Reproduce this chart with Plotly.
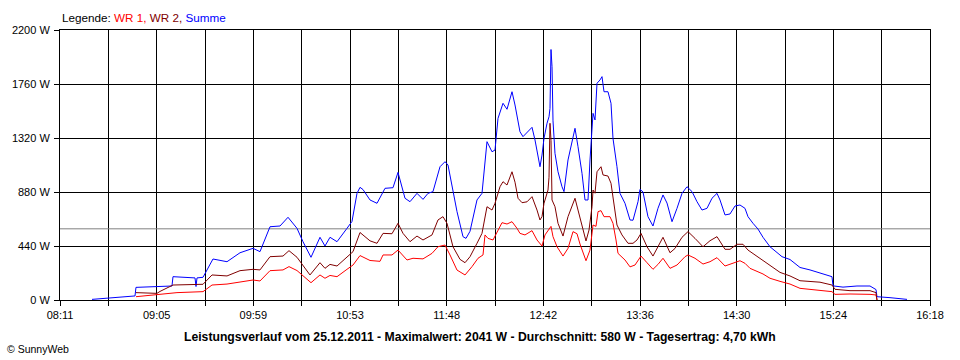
import plotly.graph_objects as go

# ---------------- data ----------------
sum_times = ["08:28:55","08:37:52","08:48:30","08:52:59","08:53:32","09:05:18","09:13:41","09:14:15","09:26:34","09:27:08",
             "09:27:41","09:31:03","09:33:17","09:36:38","09:44:29","09:51:46","09:59:02","10:02:57","10:08:33","10:14:09",
             "10:18:38","10:23:40","10:27:01","10:31:30","10:36:32","10:39:20","10:42:08","10:46:04","10:51:39","10:54:27",
             "10:57:15","10:58:56","11:00:37","11:04:32","11:08:27","11:12:56","11:17:24","11:20:12","11:24:07","11:26:55",
             "11:30:50","11:34:12","11:37:00","11:39:47","11:43:43","11:46:31","11:48:11","11:50:26","11:53:14","11:56:35",
             "11:58:16","12:00:31","12:04:25","12:07:13","12:10:01","12:12:49","12:14:30","12:16:11","12:18:59","12:21:13",
             "12:24:01","12:25:42","12:28:29","12:30:10","12:35:13","12:36:53","12:39:41","12:40:49","12:41:56","12:43:37",
             "12:44:44","12:45:17","12:45:51","12:46:25","12:46:58","12:48:05","12:49:46","12:52:00","12:53:07","12:55:22",
             "12:57:36","12:59:17","13:00:58","13:03:12","13:04:53","13:06:34","13:07:41","13:08:48","13:09:22","13:10:29",
             "13:11:36","13:13:17","13:14:24","13:15:31","13:17:45","13:19:26","13:20:33","13:22:47","13:24:28","13:27:16",
             "13:30:04","13:31:45","13:34:33","13:35:40","13:37:21","13:40:08","13:42:56","13:45:44","13:48:32","13:50:47",
             "13:53:35","13:56:23","13:59:11","14:01:59","14:04:47","14:07:34","14:10:22","14:13:10","14:15:58","14:18:46",
             "14:20:27","14:23:15","14:26:03","14:28:51","14:31:38","14:34:26","14:36:07","14:38:55","14:41:43","14:44:31",
             "14:48:26","14:52:55","14:55:09","14:59:38","15:05:14","15:10:50","15:16:26","15:23:08","15:23:42","15:29:18",
             "15:37:08","15:44:25","15:47:46","15:48:20","15:55:37","16:05:08"]
sum_watts = [5,14,27,33,103,106,114,190,180,110,
             180,185,244,334,312,385,421,394,597,603,
             674,584,475,348,511,440,511,475,584,640,
             869,918,900,815,788,910,915,1040,829,801,
             869,820,869,883,1086,1127,1100,923,720,516,
             502,560,815,869,1290,1208,1222,1480,1603,1554,
             1697,1589,1371,1331,1407,1304,1086,1181,1317,1440,
             1493,1560,2041,1901,1460,1195,1045,923,883,1141,
             1304,1399,1249,1032,815,815,1141,1358,1521,1467,
             1766,1793,1820,1697,1697,1603,1317,1086,869,788,
             652,650,801,902,880,679,603,747,856,790,
             638,747,869,923,883,801,733,747,829,869,
             815,693,701,766,774,747,679,625,578,511,
             434,380,353,330,265,245,222,190,115,105,
             114,114,85,27,19,5]

wr2_times = ["08:53:32","09:05:18","09:06:59","09:14:15","09:31:03","09:36:05","09:44:29","09:51:46","09:59:02","10:02:57",
             "10:08:33","10:15:50","10:19:11","10:23:40","10:30:56","10:36:32","10:39:20","10:42:08","10:46:04","10:51:39",
             "10:55:01","10:58:56","11:04:32","11:08:27","11:11:49","11:16:50","11:20:12","11:23:00","11:26:55","11:30:50",
             "11:34:12","11:39:14","11:42:35","11:45:23","11:47:38","11:50:59","11:54:55","11:57:43","12:00:31","12:04:25",
             "12:07:13","12:10:01","12:12:49","12:14:30","12:17:18","12:18:59","12:21:13","12:24:01","12:25:42","12:27:23",
             "12:29:37","12:32:25","12:35:13","12:38:01","12:39:41","12:40:49","12:41:56","12:44:10","12:44:44","12:45:17",
             "12:45:51","12:46:25","12:48:05","12:49:46","12:52:34","12:55:22","12:57:36","12:59:17","13:00:58","13:03:12",
             "13:05:26","13:07:07","13:08:48","13:09:22","13:10:29","13:11:36","13:13:50","13:14:58","13:17:45","13:19:26",
             "13:21:07","13:22:47","13:25:35","13:28:57","13:31:45","13:33:59","13:36:14","13:39:35","13:42:56","13:45:44",
             "13:48:32","13:52:28","13:55:16","13:59:11","14:02:32","14:06:27","14:10:56","14:14:51","14:18:46","14:23:15",
             "14:26:03","14:29:58","14:33:19","14:36:07","14:41:10","14:46:46","14:54:02","14:59:38","15:05:14","15:10:50",
             "15:16:26","15:23:08","15:24:49","15:33:13","15:44:25","15:47:46","15:48:20"]
wr2_watts = [60,54,70,122,128,204,196,239,250,245,
             353,358,402,348,204,304,258,290,277,348,
             394,550,482,462,543,540,625,543,475,521,
             489,530,652,679,625,434,331,304,353,462,
             543,760,733,788,923,964,937,1045,960,829,
             793,800,842,733,652,680,788,896,1000,1440,
             1300,815,760,625,521,679,760,829,733,611,
             481,570,760,896,870,1045,1086,1019,1010,951,
             760,611,530,462,462,489,543,434,358,434,
             511,385,420,511,557,502,434,483,516,413,
             413,454,454,407,353,299,225,196,157,149,
             145,122,87,76,76,60,0]

wr1_times = ["08:53:32","09:05:18","09:16:29","09:31:03","09:36:05","09:44:29","09:51:46","09:59:02","10:02:57","10:08:33",
             "10:15:50","10:19:11","10:23:40","10:31:30","10:36:32","10:39:20","10:42:08","10:46:04","10:51:39","10:55:01",
             "10:58:56","11:04:32","11:10:08","11:11:49","11:16:50","11:20:12","11:25:14","11:28:36","11:34:12","11:39:14",
             "11:42:35","11:46:31","11:49:19","11:53:14","11:57:43","12:01:38","12:04:59","12:07:47","12:08:54","12:10:35",
             "12:13:23","12:15:37","12:18:25","12:21:13","12:24:01","12:26:49","12:28:29","12:31:17","12:35:13","12:38:01",
             "12:40:49","12:42:29","12:44:44","12:45:51","12:46:58","12:49:13","12:52:34","12:55:22","12:58:10","13:00:24",
             "13:02:05","13:05:26","13:07:41","13:09:22","13:11:02","13:12:10","13:13:50","13:15:31","13:18:52","13:20:33",
             "13:22:14","13:23:21","13:27:16","13:30:04","13:32:52","13:36:14","13:39:35","13:42:56","13:45:44","13:48:32",
             "13:52:28","13:56:23","14:00:52","14:02:32","14:06:27","14:10:56","14:14:51","14:18:46","14:23:15","14:27:44",
             "14:31:38","14:34:26","14:37:14","14:44:31","14:48:26","14:54:02","14:59:38","15:05:14","15:10:50","15:16:26",
             "15:23:08","15:24:49","15:33:13","15:44:25","15:47:46","15:48:20"]
wr1_watts = [27,41,60,68,122,130,149,163,155,239,
             245,272,240,141,204,177,200,190,250,285,
             362,322,315,367,367,407,326,340,335,380,
             434,448,367,244,204,272,340,367,530,502,
             489,557,630,619,638,584,543,530,565,489,
             440,530,584,600,516,434,358,421,557,540,
             456,320,407,611,600,720,728,679,679,625,
             489,380,326,270,285,358,304,250,290,340,
             258,285,353,367,340,293,312,345,277,299,
             320,299,258,212,177,152,130,95,87,81,
             68,46,49,46,41,0]

average_w = 580
x_tick_labels = ["08:11", "09:05", "09:59", "10:53", "11:48", "12:42", "13:36", "14:30", "15:24", "16:18"]
y_tick_values = [0, 440, 880, 1320, 1760, 2200]
y_tick_labels = ["0 W", "440 W", "880 W", "1320 W", "1760 W", "2200 W"]
title_text = ("Leistungsverlauf vom 25.12.2011 - Maximalwert: 2041 W - "
              "Durchschnitt: 580 W - Tagesertrag: 4,70 kWh")


def to_min(s):
    h, m, sec = (int(v) for v in s.split(":"))
    return h * 60 + m + sec / 60.0


x_start = to_min(x_tick_labels[0] + ":00")
x_end = to_min(x_tick_labels[-1] + ":00")
n_int = 2 * (len(x_tick_labels) - 1)
tickvals = [x_start + k * (x_end - x_start) / n_int for k in range(n_int + 1)]
ticktext = []
for k in range(n_int + 1):
    ticktext.append(x_tick_labels[k // 2] if k % 2 == 0 else "")

FONT = "Liberation Sans, Arial, sans-serif"

fig = go.Figure()
fig.add_trace(go.Scatter(x=[x_start, x_end], y=[average_w, average_w], mode="lines",
                         line=dict(color="#808080", width=1), hoverinfo="skip"))
fig.add_trace(go.Scatter(x=[to_min(t) for t in sum_times], y=sum_watts, mode="lines",
                         line=dict(color="#0000FF", width=1), name="Summe"))
fig.add_trace(go.Scatter(x=[to_min(t) for t in wr1_times], y=wr1_watts, mode="lines",
                         line=dict(color="#FF0000", width=1), name="WR 1"))
fig.add_trace(go.Scatter(x=[to_min(t) for t in wr2_times], y=wr2_watts, mode="lines",
                         line=dict(color="#800000", width=1), name="WR 2"))

fig.update_layout(
    width=960, height=360,
    margin=dict(l=60, r=30, t=30, b=60),
    paper_bgcolor="white", plot_bgcolor="white",
    showlegend=False,
    font=dict(family=FONT, size=11, color="black"),
    xaxis=dict(range=[x_start, x_end], tickmode="array", tickvals=tickvals, ticktext=ticktext,
               showgrid=True, gridcolor="black", gridwidth=1, zeroline=False,
               showline=True, linecolor="black", linewidth=1, mirror=True,
               ticks="outside", ticklen=5, tickcolor="black", tickangle=0,
               tickfont=dict(family=FONT, size=11, color="black")),
    yaxis=dict(range=[0, 2200], tickmode="array", tickvals=y_tick_values, ticktext=y_tick_labels,
               showgrid=True, gridcolor="black", gridwidth=1, zeroline=False,
               showline=True, linecolor="black", linewidth=1, mirror=True,
               ticks="outside", ticklen=5, tickcolor="black", ticklabelstandoff=2,
               tickfont=dict(family=FONT, size=11, color="black")),
    annotations=[
        dict(text=('<span style="color:black">Legende: </span>'
                   '<span style="color:#FF0000">WR 1,</span> '
                   '<span style="color:#800000">WR 2,</span> '
                   '<span style="color:#0000FF">Summe</span>'),
             xref="paper", yref="paper", x=0, y=1, yshift=21, xanchor="left", yanchor="top",
             showarrow=False, font=dict(family=FONT, size=11.7)),
        dict(text="<b>" + title_text + "</b>", xref="paper", yref="paper",
             x=0.4828, y=0, yshift=-37, xanchor="center", yanchor="middle",
             showarrow=False, font=dict(family=FONT, size=12.2, color="black")),
        dict(text="© SunnyWeb", xref="paper", yref="paper", x=-0.0625, y=0, xshift=-1, yshift=-49,
             xanchor="left", yanchor="middle", showarrow=False,
             font=dict(family=FONT, size=10.5, color="black")),
    ],
)

fig.write_html("out.html", config=dict(displayModeBar=False),
               post_script="document.body.style.margin='0px';document.body.style.overflow='hidden';")
